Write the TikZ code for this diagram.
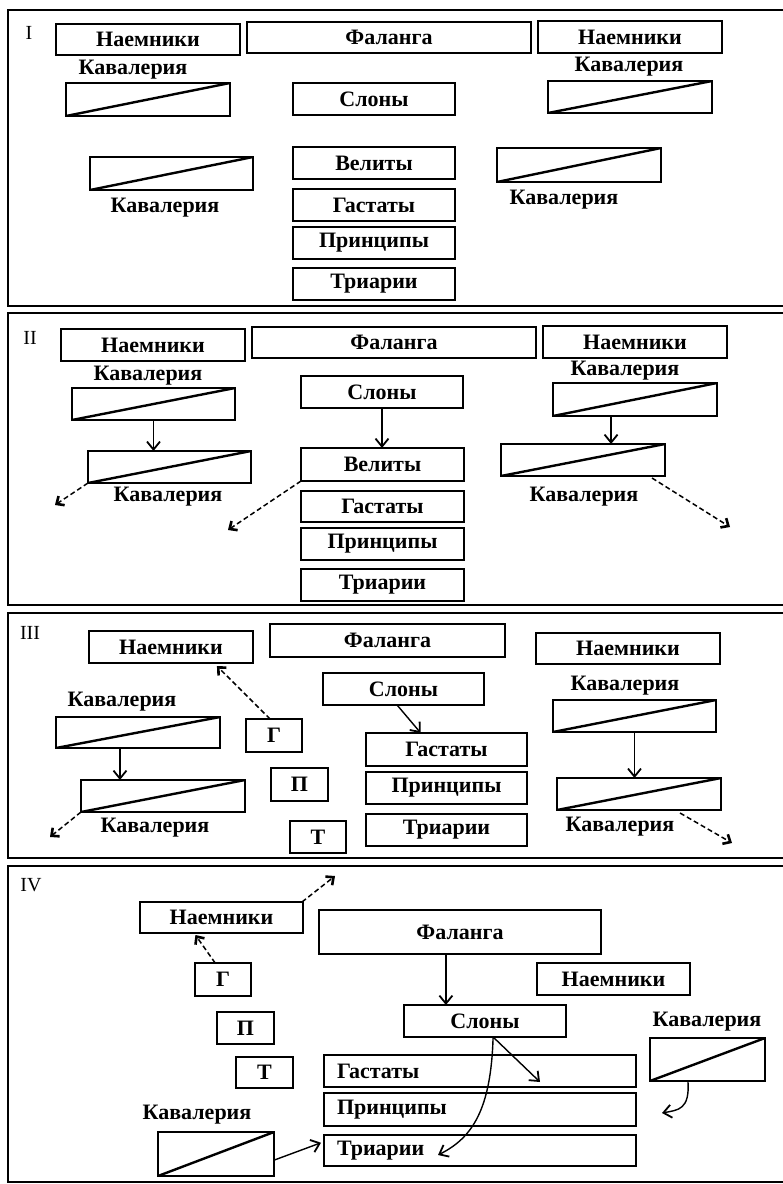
\documentclass[tikz,border=0pt]{standalone}
\usepackage{fontspec}
\setmainfont{Liberation Serif}
\usetikzlibrary{arrows.meta,calc}
\newcommand\bx[7][]{\node[box,#1,minimum width={#5-#3},minimum height={#6-#4}] (#2) at ({(#3+#5)/2},{(#4+#6)/2}) {#7};}
\begin{document}
\begin{tikzpicture}[x=1pt,y=-1pt,
  panel/.style={line width=2.4pt},
  txt/.style={font=\fontsize{22}{24}\selectfont\bfseries},
  box/.style={draw, line width=1.8pt, inner sep=0pt, outer sep=0pt, txt},
  cav/.style={box, path picture={\draw[line width=2.4pt] (path picture bounding box.south west) -- (path picture bounding box.north east);}},
  lab/.style={inner sep=0pt, txt},
  plab/.style={inner sep=0pt, font=\fontsize{20}{22}\selectfont},
  arr/.style={line width=1.4pt, -{Straight Barb[length=8pt,width=13pt,line width=1.8pt]}},
  darr/.style={line width=1.5pt, dash pattern=on 5pt off 3pt, -{Straight Barb[length=6pt,width=11pt,line width=2.6pt]}},
  lalign/.style={text width=286pt, align=left}
]
\useasboundingbox (0,0) rectangle (783,1184);
\clip (0,0) rectangle (783,1184);
\fill[white] (0,0) rectangle (783,1184);
% ---------- frames
\draw[panel] (8,10) rectangle (800,306);
\draw[panel] (8,313) rectangle (800,605);
\draw[panel] (8,613) rectangle (800,858);
\draw[panel] (8,866) rectangle (800,1182);

% ================= Panel I
\node[plab] (lI) at (29,33) {I};
\bx{merLa}{56}{24}{240}{55}{Наемники}
\bx{falA}{247}{22}{531}{53}{Фаланга}
\bx{merRa}{538}{21}{722}{53}{Наемники}
\node[lab] (clLa1) at (133,70) {Кавалерия};
\bx[cav]{cavLa1}{66}{83}{230}{116}{}
\bx{slonA}{293}{83}{455}{115}{Слоны}
\node[lab] (clRa1) at (629,67) {Кавалерия};
\bx[cav]{cavRa1}{548}{81}{712}{113}{}
\bx[cav]{cavLa2}{90}{157}{253}{190}{}
\node[lab] (clLa2) at (165,208) {Кавалерия};
\bx{velA}{293}{147}{455}{179}{Велиты}
\bx{gasA}{293}{189}{455}{221}{Гастаты}
\bx{prA}{293}{227}{455}{259}{Принципы}
\bx{trA}{293}{268}{455}{300}{Триарии}
\bx[cav]{cavRa2}{497}{148}{661}{182}{}
\node[lab] (clRa2) at (564,200) {Кавалерия};

% ================= Panel II
\node[plab] (lII) at (30,338) {II};
\bx{merLb}{61}{329}{245}{361}{Наемники}
\bx{falB}{252}{327}{536}{358}{Фаланга}
\bx{merRb}{543}{326}{727}{358}{Наемники}
\node[lab] (clLb1) at (148,376) {Кавалерия};
\bx[cav]{cavLb1}{72}{388}{235}{420}{}
\bx[cav]{cavLb2}{88}{451}{251}{483}{}
\node[lab] (clLb2) at (168,497) {Кавалерия};
\bx{slonB}{301}{376}{463}{408}{Слоны}
\bx{velB}{301}{448}{464}{481}{Велиты}
\bx{gasB}{301}{491}{464}{522}{Гастаты}
\bx{prB}{301}{528}{464}{560}{Принципы}
\bx{trB}{301}{569}{464}{601}{Триарии}
\node[lab] (clRb1) at (625,371) {Кавалерия};
\bx[cav]{cavRb1}{553}{383}{717}{416}{}
\bx[cav]{cavRb2}{501}{444}{665}{476}{}
\node[lab] (clRb2) at (584,497) {Кавалерия};
\coordinate (eLb) at (55,505);
\coordinate (eVb) at (228,530);
\coordinate (eRb) at (730,527);
\draw[arr] (cavLb1.south) -- (cavLb1.south |- cavLb2.north);
\draw[arr] (slonB.south) -- (slonB.south |- velB.north);
\coordinate (sRb) at ($(cavRb1.south west)!0.354!(cavRb1.south east)$);
\draw[arr] (sRb) -- (sRb |- cavRb2.north);
\draw[darr] (cavLb2.south west) -- (eLb);
\draw[darr] (velB.south west) -- (eVb);
\draw[darr] ($(cavRb2.south east)+(-13,2)$) -- (eRb);

% ================= Panel III
\node[plab] (lIII) at (30,633) {III};
\bx{merLc}{89}{631}{253}{663}{Наемники}
\bx{falC}{270}{624}{505}{657}{Фаланга}
\bx{merRc}{536}{633}{720}{664}{Наемники}
\bx{slonC}{323}{673}{484}{705}{Слоны}
\bx{gasC}{366}{733}{527}{766}{Гастаты}
\bx{prC}{366}{772}{527}{804}{Принципы}
\bx{trC}{366}{814}{527}{846}{Триарии}
\bx{gC}{246}{719}{302}{752}{Г}
\bx{pC}{271}{768}{328}{801}{П}
\bx{tC}{290}{821}{346}{853}{Т}
\node[lab] (clLc1) at (122,702) {Кавалерия};
\bx[cav]{cavLc1}{56}{717}{220}{748}{}
\bx[cav]{cavLc2}{81}{780}{245}{812}{}
\node[lab] (clLc2) at (155,828) {Кавалерия};
\node[lab] (clRc1) at (625,686) {Кавалерия};
\bx[cav]{cavRc1}{553}{700}{716}{732}{}
\bx[cav]{cavRc2}{557}{778}{721}{810}{}
\node[lab] (clRc2) at (620,827) {Кавалерия};
\coordinate (eLc) at (50,837);
\coordinate (eRc) at (732,843);
\draw[arr] ($(slonC.south west)!0.46!(slonC.south east)$) -- ($(gasC.north west)!0.34!(gasC.north east)$);
\draw[darr] ($(gC.north west)!0.43!(gC.north east)$) -- ($(merLc.south west)!0.78!(merLc.south east)+(0,3)$);
\coordinate (sLc) at ($(cavLc1.south west)!0.39!(cavLc1.south east)$);
\draw[arr] (sLc) -- (sLc |- cavLc2.north);
\coordinate (sRc) at ($(cavRc1.south west)!0.5!(cavRc1.south east)$);
\draw[arr] (sRc) -- (sRc |- cavRc2.north);
\draw[darr] (cavLc2.south west) -- (eLc);
\draw[darr] ($(cavRc2.south east)+(-41,3)$) -- (eRc);

% ================= Panel IV
\node[plab] (lIV) at (31,885) {IV};
\bx{merLd}{140}{902}{303}{933}{Наемники}
\bx{falD}{319}{910}{601}{954}{Фаланга}
\bx{slonD}{404}{1005}{566}{1037}{Слоны}
\bx{merRd}{537}{963}{690}{995}{Наемники}
\bx{gD}{195}{963}{251}{996}{Г}
\bx{pD}{217}{1012}{274}{1044}{П}
\bx{tD}{236}{1057}{293}{1088}{Т}
\bx[lalign]{gasD}{324}{1055}{636}{1087}{Гастаты}
\bx[lalign]{prD}{324}{1093}{636}{1126}{Принципы}
\bx[lalign]{trD}{324}{1135}{636}{1166}{Триарии}
\node[lab] (clRd) at (707,1022) {Кавалерия};
\bx[cav]{cavRd}{650}{1038}{765}{1081}{}
\node[lab] (clLd) at (197,1115) {Кавалерия};
\bx[cav]{cavLd}{158}{1132}{274}{1176}{}
\coordinate (eMd) at (335,876);
\coordinate (tGas) at (540,1082);
\coordinate (tTr) at (438,1155);
\coordinate (tCr) at (662,1113);
\draw[darr] ($(merLd.north east)+(-1,0)$) -- (eMd);
\draw[darr] ($(gD.north west)!0.36!(gD.north east)$) -- ($(merLd.south west)!0.34!(merLd.south east)+(0,2)$);
\coordinate (sF) at ($(falD.south west)!0.45!(falD.south east)$);
\draw[arr] (sF) -- (sF |- slonD.north);
\coordinate (sS) at ($(slonD.south west)!0.55!(slonD.south east)$);
\draw[arr] (sS) -- (tGas);
\draw[arr] (sS) .. controls (491,1110) and (472,1138) .. (tTr);
\coordinate (sCr) at ($(cavRd.south west)!0.33!(cavRd.south east)$);
\draw[arr] (sCr) .. controls (690,1110) and (678,1110) .. (tCr);
\draw[arr] ($(cavLd.south east)!0.36!(cavLd.north east)$) -- ($(trD.north west)!0.25!(trD.south west)+(-3,0)$);
\end{tikzpicture}
\end{document}
